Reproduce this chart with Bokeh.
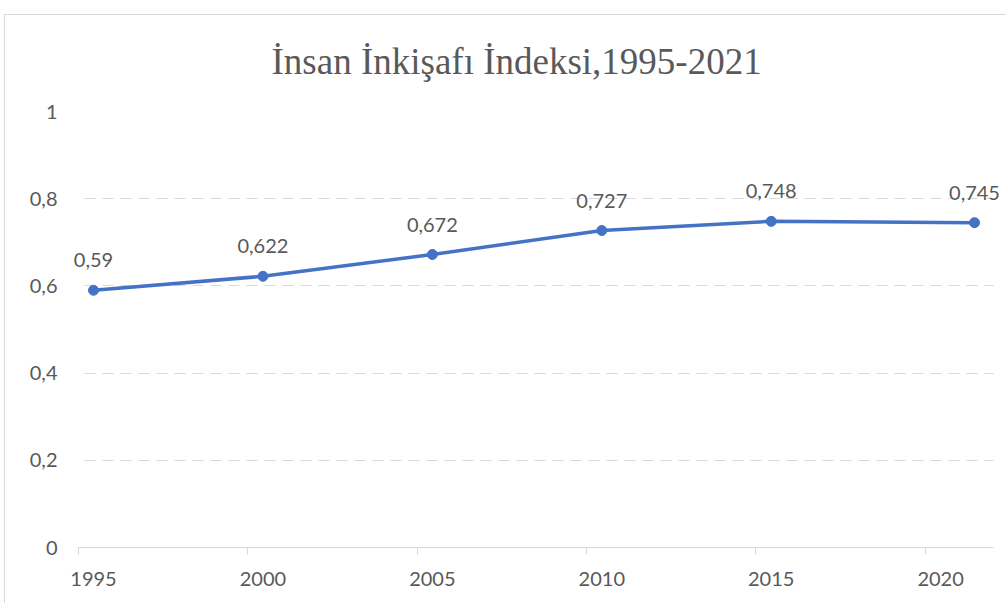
from bokeh.plotting import figure
from bokeh.models import (Range1d, FixedTicker, LabelSet, ColumnDataSource,
                          BoxAnnotation)
from bokeh.core.properties import value
from bokeh.embed import file_html
from bokeh.resources import INLINE

# ---- data ----
years = [1995, 2000, 2005, 2010, 2015, 2021]
hdi = [0.59, 0.622, 0.672, 0.727, 0.748, 0.745]
x_tick_labels = [1995, 2000, 2005, 2010, 2015, 2020]
y_ticks = [0, 0.2, 0.4, 0.6, 0.8, 1]
title_text = "İnsan İnkişafı İndeksi,1995-2021"


def fmt(v):
    return ("%g" % v).replace(".", ",")


GREY = "#595959"
LIGHT = "#d9d9d9"
BLUE = "#4472C4"
W, H = 1006, 603
X0, X1 = 1994.203, 2021.944      # visible frame range
AX0, AX1 = 1994.54, 2021.56      # plot-area extent (axis line / grid)

p = figure(width=W, height=H, output_backend="svg", toolbar_location=None,
           x_range=Range1d(X0, X1), y_range=Range1d(0, 1),
           min_border_left=66, min_border_right=0, min_border_top=111,
           min_border_bottom=56)
p.outline_line_color = None
p.background_fill_color = "white"
p.border_fill_color = None
p.styles = {
    "background-image": ("linear-gradient(#d9d9d9, #d9d9d9), "
                         "linear-gradient(#d9d9d9, #d9d9d9)"),
    "background-size": "100% 1px, 1px 100%",
    "background-position": "4px 14px, 4px 14px",
    "background-repeat": "no-repeat",
    "background-color": "white",
}

# title
p.title.text = title_text
p.title.align = "left"
p.title.offset = 205
p.title.text_font = "Liberation Serif"
p.title.text_font_size = "37px"
p.title.text_font_style = "normal"
p.title.text_color = GREY
p.title.standoff = 59

# x axis: year labels centred in the year, ticks at year boundaries
p.xaxis.bounds = (AX0, AX1)
p.xaxis.ticker = FixedTicker(ticks=x_tick_labels,
                             minor_ticks=[y - 0.45 for y in x_tick_labels])
p.xaxis.major_tick_out = 0
p.xaxis.major_tick_in = 0
p.xaxis.minor_tick_out = 7
p.xaxis.minor_tick_in = 0
p.xaxis.minor_tick_line_color = LIGHT
p.xaxis.axis_line_color = LIGHT
p.xaxis.major_label_text_font = "Lato"
p.xaxis.major_label_text_font_size = "20px"
p.xaxis.major_label_text_color = GREY
p.xaxis.major_label_standoff = 17

p.yaxis.ticker = FixedTicker(ticks=y_ticks)
p.yaxis.major_label_overrides = {t: fmt(t) for t in y_ticks}
p.yaxis.axis_line_color = None
p.yaxis.major_tick_line_color = None
p.yaxis.minor_tick_line_color = None
p.yaxis.major_tick_out = 0
p.yaxis.major_label_text_font = "Lato"
p.yaxis.major_label_text_font_size = "20px"
p.yaxis.major_label_text_color = GREY
p.yaxis.major_label_standoff = 9

p.xgrid.visible = False
p.ygrid.ticker = FixedTicker(ticks=y_ticks[1:])
p.ygrid.grid_line_color = LIGHT
p.ygrid.grid_line_dash = "11 7"
p.ygrid.grid_line_width = 1

# mask the grid outside the plot area
for lo, hi in ((X0, AX0), (AX1, X1)):
    p.add_layout(BoxAnnotation(left=lo, right=hi, bottom=0, top=1,
                               fill_color="white", fill_alpha=1,
                               line_alpha=0, level="underlay"))

src = ColumnDataSource(dict(x=years, y=hdi, lab=[fmt(v) for v in hdi]))
p.line("x", "y", source=src, line_color=BLUE, line_width=3.5)
p.scatter("x", "y", source=src, size=10, fill_color=BLUE, line_color=BLUE)

labels = LabelSet(x="x", y="y", text="lab", source=src, text_align="center",
                  text_baseline="alphabetic", y_offset=23,
                  text_font=value("Lato"), text_font_size="20px",
                  text_color=GREY)
p.add_layout(labels)

open("out.html", "w").write(file_html(p, INLINE))
